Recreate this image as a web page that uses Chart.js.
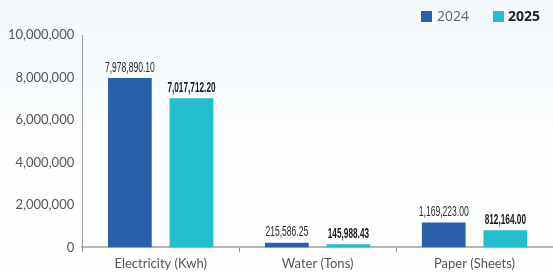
<!DOCTYPE html>
<html><head><meta charset="utf-8">
<script src="https://cdn.jsdelivr.net/npm/chart.js@4/dist/chart.umd.min.js"></script>
<style>
html,body{margin:0;padding:0;}
body{width:553px;height:279px;background:linear-gradient(180deg,#f3f8fc 0%,#fbfdfe 45%,#ffffff 100%);}
#wrap{width:553px;height:279px;position:relative;}
</style></head><body>
<div id="wrap"><canvas id="c" width="553" height="279"></canvas></div>
<script>
const categories = ["Electricity (Kwh)", "Water (Tons)", "Paper (Sheets)"];
const seriesNames = ["2024", "2025"];
const values2024 = [7978890.10, 215586.25, 1169223.00];
const values2025 = [7017712.20, 145988.43, 812164.00];
const yTicks = [0, 2000000, 4000000, 6000000, 8000000, 10000000];

const colors = ["#2860ac", "#22bece"];
const fmt = v => v.toLocaleString('en-US', {minimumFractionDigits: 2, maximumFractionDigits: 2});

const labelPlugin = {
  id: 'labels',
  afterDatasetsDraw(chart) {
    const ctx = chart.ctx;
    chart.data.datasets.forEach((ds, i) => {
      const meta = chart.getDatasetMeta(i);
      meta.data.forEach((bar, j) => {
        ctx.save();
        ctx.font = (i === 0 ? '' : 'bold ') + '15px "Liberation Sans", sans-serif';
        ctx.fillStyle = i === 0 ? '#2a2a2a' : '#1a1a1a';
        ctx.textAlign = 'center';
        ctx.textBaseline = 'bottom';
        ctx.translate(bar.x, bar.y - 3);
        ctx.scale(i === 0 ? 0.57 : 0.55, 1);
        ctx.fillText(fmt(ds.data[j]), 0, 0);
        ctx.restore();
      });
    });
  },
  afterDraw(chart) {
    const ctx = chart.ctx;
    ctx.save();
    ctx.textBaseline = 'middle';
    ctx.textAlign = 'left';
    const items = [{x: 421, bold: false}, {x: 493, bold: true}];
    items.forEach((it, i) => {
      ctx.fillStyle = colors[i];
      ctx.fillRect(it.x, 11, 11, 11);
      ctx.font = (it.bold ? 'bold ' : '') + '14px "Open Sans", sans-serif';
      ctx.fillStyle = it.bold ? '#222222' : '#666666';
      ctx.fillText(seriesNames[i], it.x + (it.bold ? 15 : 16), 17);
    });
    ctx.restore();
  }
};

new Chart(document.getElementById('c'), {
  type: 'bar',
  data: {
    labels: categories,
    datasets: [
      {label: seriesNames[0], data: values2024, backgroundColor: colors[0]},
      {label: seriesNames[1], data: values2025, backgroundColor: colors[1]}
    ]
  },
  options: {
    responsive: false,
    animation: false,
    devicePixelRatio: 1,
    layout: {padding: {top: 35, right: 0, left: 0, bottom: 3}},
    datasets: {bar: {categoryPercentage: 0.785, barPercentage: 0.71}},
    plugins: {legend: {display: false}, tooltip: {enabled: false}},
    scales: {
      x: {
        grid: {display: true, drawOnChartArea: false, drawTicks: true, tickLength: 5, color: '#999999', offset: true},
        border: {display: true, color: '#b5b5b5', width: 2},
        ticks: {color: '#555555', font: {family: 'Lato, "Open Sans", sans-serif', size: 13}, padding: 4}
      },
      y: {
        min: 0, max: 10000000,
        afterBuildTicks: axis => { axis.ticks = yTicks.map(v => ({value: v})); },
        grid: {display: false, drawTicks: false},
        border: {display: true, color: '#a0a0a0', width: 1},
        ticks: {color: '#555555', font: {family: 'Lato, "Open Sans", sans-serif', size: 13}, padding: 8,
          callback: v => v.toLocaleString('en-US')}
      }
    }
  },
  plugins: [labelPlugin]
});
</script>
</body></html>
